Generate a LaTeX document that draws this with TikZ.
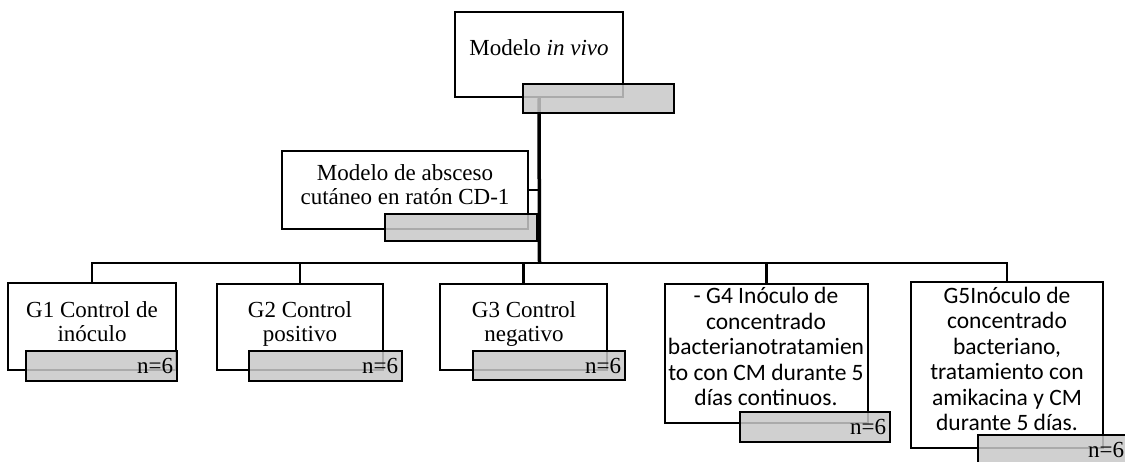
\documentclass[tikz,border=0pt]{standalone}
\usepackage{fontspec}
\setmainfont{Liberation Serif}
\newfontfamily\calfont{Carlito}
\definecolor{gfill}{HTML}{C8C8C8}
\begin{document}
\begin{tikzpicture}[x=1pt,y=-1pt,
  box/.style={draw, line width=2.5pt, fill=white, inner sep=0pt},
  gbox/.style={draw, line width=2.5pt, fill=gfill, fill opacity=0.85, inner sep=0pt},
  txt/.style={anchor=north, inner sep=0pt, align=center, font=\fontsize{23}{24.5}\selectfont},
  stxt/.style={anchor=north, inner sep=0pt, align=center, font=\calfont\fontsize{23.5}{25.5}\selectfont},
  ntxt/.style={anchor=east, inner sep=0pt, font=\fontsize{23}{24.5}\selectfont},
  conn/.style={line width=2.3pt},
  trunk/.style={line width=3.5pt}]
\useasboundingbox (0,0) rectangle (1125,462);
\clip (0,0) rectangle (1125,462);

% main boxes
\node[box, minimum width=168pt, minimum height=85pt] (m) at (539,54.5) {};
\node[box, minimum width=246pt, minimum height=78pt] (s) at (405,190) {};
\node[box, minimum width=168pt, minimum height=87pt] (g1) at (92,326.5) {};
\node[box, minimum width=166pt, minimum height=86pt] (g2) at (300,327) {};
\node[box, minimum width=167pt, minimum height=86pt] (g3) at (523.5,327) {};
\node[box, minimum width=203pt, minimum height=139pt] (g4) at (766.5,353.5) {};
\node[box, minimum width=192pt, minimum height=166pt] (g5) at (1007,365) {};

% texts
\node[txt] (mT) at (539,39) {Modelo \textit{in vivo}};
\node[txt] (sT) at (405,164) {Modelo de absceso\\cutáneo en ratón CD-1};
\node[txt] (g1T) at (92,301) {G1 Control de\\inóculo};
\node[txt] (g2T) at (300,301) {G2 Control\\positivo};
\node[txt] (g3T) at (524,301) {G3 Control\\negativo};
\node[stxt] (g4T) at (766,287) {- G4 Inóculo de\\concentrado\\bacterianotratamien\\to con CM durante 5\\días continuos.};
\node[stxt] (g5T) at (1007,286.5) {G5Inóculo de\\concentrado\\bacteriano,\\tratamiento con\\amikacina y CM\\durante 5 días.};

% connectors
\coordinate (j) at (539.5,263);
\draw[trunk] (m.south) -- (j);
\draw[conn, line width=1.6pt] (s.east) -- (s.east -| j);
\draw[conn] (j) -| (g1.north);
\draw[conn] (j) -| (g2.north);
\draw[conn] (j) -| (g3.north);
\draw[conn] (j) -| (g4.north);
\draw[conn] (j) -| (g5.north);

% grey boxes
\node[gbox, minimum width=151pt, minimum height=29pt] (mG) at (598.5,98.5) {};
\node[gbox, minimum width=152pt, minimum height=27pt] (sG) at (461,227.5) {};
\node[gbox, minimum width=151pt, minimum height=30pt] (g1G) at (101.5,366) {};
\node[gbox, minimum width=153pt, minimum height=30pt] (g2G) at (325.5,366) {};
\node[gbox, minimum width=152pt, minimum height=29pt] (g3G) at (549,365.5) {};
\node[gbox, minimum width=150pt, minimum height=30pt] (g4G) at (815,427) {};
\node[gbox, minimum width=150pt, minimum height=30pt] (g5G) at (1053,450) {};

% n=6 labels
\node[ntxt] (g1N) at ([xshift=-5pt]g1G.east) {n=6};
\node[ntxt] (g2N) at ([xshift=-5pt]g2G.east) {n=6};
\node[ntxt] (g3N) at ([xshift=-5pt]g3G.east) {n=6};
\node[ntxt] (g4N) at ([xshift=-5pt]g4G.east) {n=6};
\node[ntxt] (g5N) at ([xshift=-5pt]g5G.east) {n=6};
\end{tikzpicture}
\end{document}
